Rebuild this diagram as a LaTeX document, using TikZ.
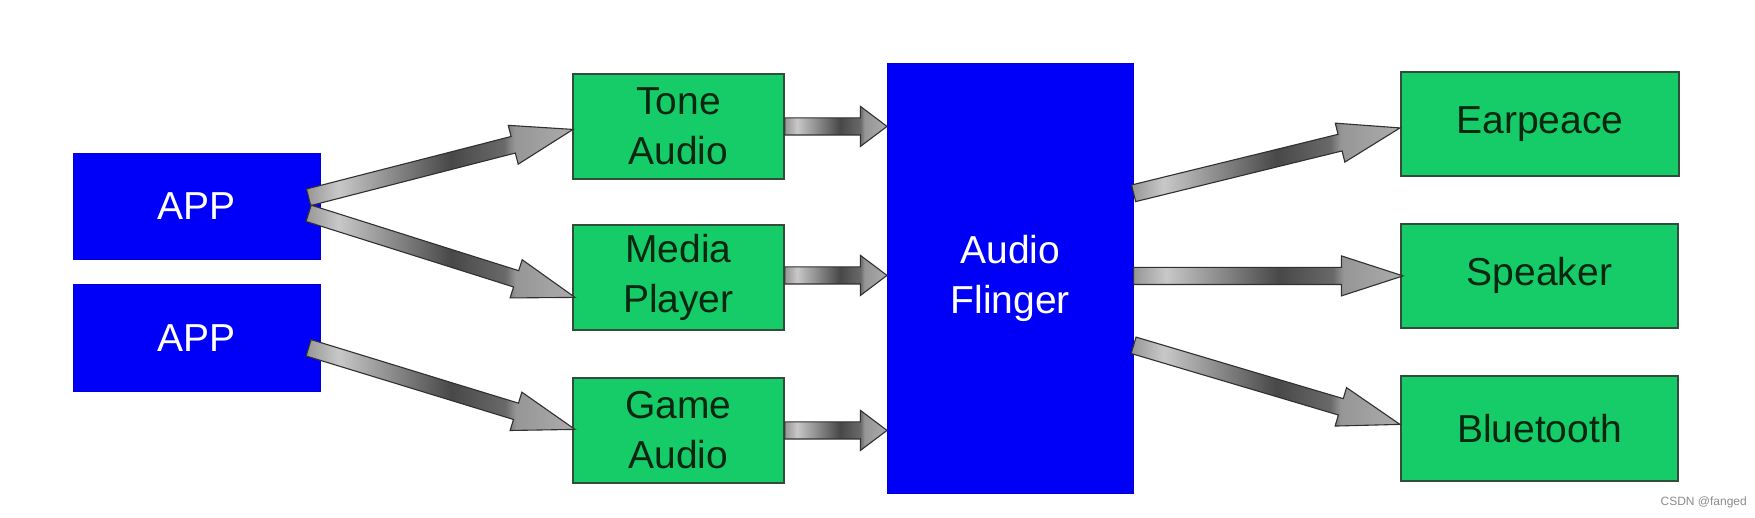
\documentclass[tikz,border=0pt]{standalone}
\usepackage{fontspec}
\setmainfont{Liberation Sans}
\usetikzlibrary{shapes.arrows,calc}
\definecolor{boxblue}{RGB}{0,0,248}
\definecolor{boxgreen}{RGB}{22,204,104}
\definecolor{greenedge}{RGB}{50,78,58}
\definecolor{greentext}{RGB}{8,38,16}
\definecolor{arredge}{RGB}{48,48,48}
\definecolor{ga}{RGB}{150,150,150}
\definecolor{gb}{RGB}{200,200,200}
\definecolor{gc}{RGB}{72,72,72}
\definecolor{gd}{RGB}{105,105,105}
\definecolor{ge}{RGB}{150,150,150}
\definecolor{gf}{RGB}{172,172,172}
\pgfdeclarehorizontalshading{arrgrad}{100bp}{color(0bp)=(ga); color(25bp)=(ga); color(31bp)=(gb); color(52bp)=(gc); color(62bp)=(gd); color(64bp)=(ge); color(75bp)=(gf); color(100bp)=(gf)}
\tikzset{
  boxtext/.style={font=\fontsize{39}{50}\selectfont, align=center, inner sep=0pt, anchor=north west},
  bluebox/.style={boxtext, fill=boxblue, draw=boxblue!85!black, line width=0.6pt, text=white},
  greenbox/.style={boxtext, fill=boxgreen, draw=greenedge, line width=1.8pt, text=greentext},
  blockarrow/.style={single arrow, draw=arredge, line width=1.1pt, shading=arrgrad,
    inner xsep=0pt, inner ysep=8pt, single arrow head extend=11.5pt,
    single arrow head indent=0pt, outer sep=0pt, anchor=tail},
  shortarr/.style={blockarrow, single arrow tip angle=74},
  longarr/.style={blockarrow, single arrow tip angle=36},
}
\newcommand\blockarr[3]{%
  \path let \p1=(#2), \p2=(#3), \n1={atan2(\y2-\y1,\x2-\x1)}, \n2={veclen(\x2-\x1,\y2-\y1)} in
    node[#1, rotate=\n1, minimum height=\n2] at (\p1) {};
}
\begin{document}
\begin{tikzpicture}[x=1pt,y=-1pt]
\useasboundingbox[fill=white] (0,0) rectangle (1755,517);
% boxes
\node[bluebox, minimum width=247pt, minimum height=106pt] (app1) at (73,153) {APP};
\node[bluebox, minimum width=247pt, minimum height=107pt] (app2) at (73,284) {APP};
\node[greenbox, minimum width=211pt, minimum height=105pt] (tone) at (572,73) {Tone\\Audio};
\node[greenbox, minimum width=211pt, minimum height=105pt] (media) at (572,224) {Media\\Player};
\node[greenbox, minimum width=211pt, minimum height=105pt] (game) at (572,377) {Game\\Audio};
\node[bluebox, minimum width=246pt, minimum height=430pt] (af) at (887,63) {Audio\\Flinger};
\node[greenbox, minimum width=278pt, minimum height=104pt] (ear) at (1400,71) {Earpeace};
\node[greenbox, minimum width=277pt, minimum height=104pt] (spk) at (1400,223) {Speaker};
\node[greenbox, minimum width=277pt, minimum height=105pt] (bt) at (1400,375) {Bluetooth};
% connector end points
\coordinate (a1u) at ($(app1.east)+(-12,-9)$);
\coordinate (a1d) at ($(app1.east)+(-12,7)$);
\coordinate (a2) at ($(app2.east)+(-12,10)$);
\coordinate (toneIn) at ($(tone.west)+(1,3)$);
\coordinate (mediaIn) at ($(media.west)+(3,20)$);
\coordinate (gameIn) at ($(game.west)+(3,-1)$);
\coordinate (afT) at (tone.east -| af.west);
\coordinate (afM) at ($(media.east -| af.west)+(0,-2)$);
\coordinate (afG) at (game.east -| af.west);
\coordinate (mediaOut) at ($(media.east)+(0,-2)$);
\coordinate (afE) at ($(af.east)+(0,-85)$);
\coordinate (afS) at (spk.west -| af.east);
\coordinate (afB) at ($(af.east)+(0,67)$);
\coordinate (earIn) at ($(ear.west)+(0,4)$);
\coordinate (spkIn) at ($(spk.west)+(3,0)$);
\coordinate (btIn) at ($(bt.west)+(0,-4)$);
% connectors
\blockarr{longarr}{a1u}{toneIn}
\blockarr{longarr}{a1d}{mediaIn}
\blockarr{longarr}{a2}{gameIn}
\blockarr{shortarr}{tone.east}{afT}
\blockarr{shortarr}{mediaOut}{afM}
\blockarr{shortarr}{game.east}{afG}
\blockarr{longarr}{afE}{earIn}
\blockarr{longarr}{afS}{spkIn}
\blockarr{longarr}{afB}{btIn}
% watermark
\node[font=\fontsize{12}{14}\selectfont, text=gray!90, anchor=east, inner sep=0pt] (wm) at (1747,502) {CSDN @fanged};
\end{tikzpicture}
\end{document}
